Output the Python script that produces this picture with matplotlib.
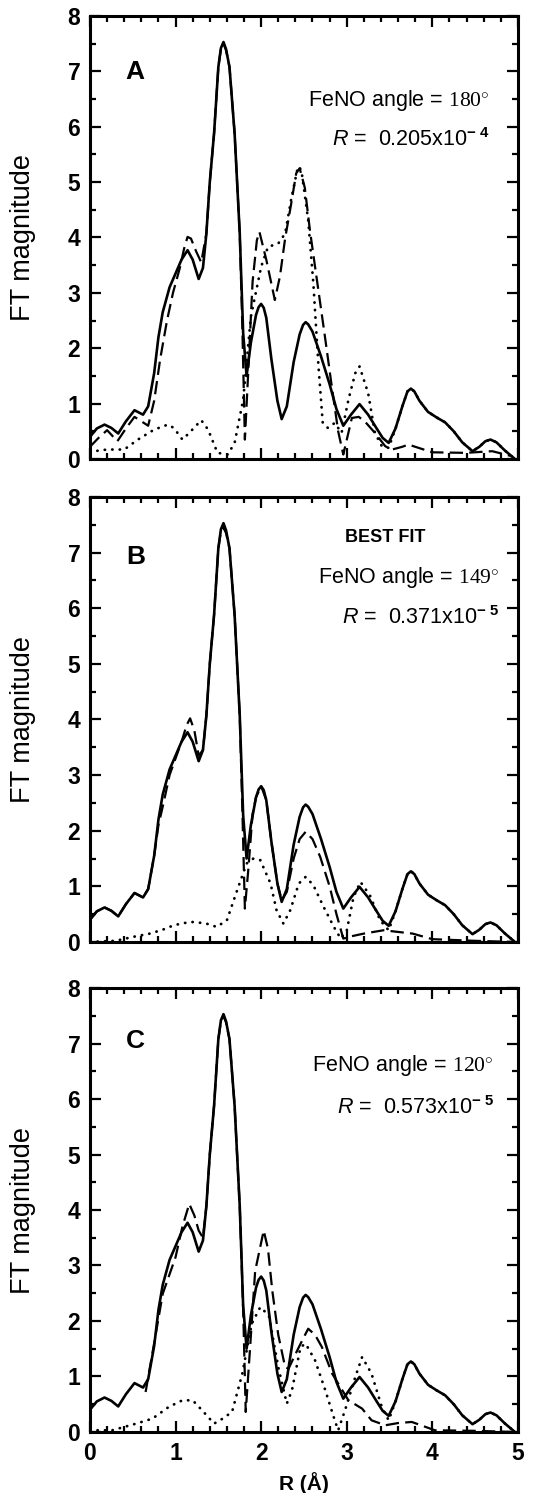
#!/usr/bin/env python3
import numpy as np
import matplotlib
matplotlib.use("Agg")
import matplotlib.pyplot as plt
from matplotlib.ticker import MultipleLocator

plt.rcParams["font.family"] = ["Liberation Sans", "DejaVu Sans"]
plt.rcParams["mathtext.fontset"] = "custom"
plt.rcParams["mathtext.rm"] = "Liberation Serif"
plt.rcParams["mathtext.it"] = "Liberation Sans:italic"
plt.rcParams["mathtext.bf"] = "Liberation Sans:bold"
plt.rcParams["mathtext.sf"] = "Liberation Sans"

# experimental FT (same trace in every panel)
R_EXP = [0.00, 0.08, 0.17, 0.25, 0.33, 0.42, 0.52, 0.62, 0.68, 0.75, 0.80, 0.85, 0.93,
         1.00, 1.07, 1.14, 1.20, 1.27, 1.32, 1.36, 1.40, 1.45, 1.50, 1.53, 1.56, 1.59,
         1.63, 1.69, 1.75, 1.79, 1.83, 1.88, 1.94, 1.97, 2.00, 2.03, 2.06, 2.12, 2.19,
         2.24, 2.30, 2.38, 2.45, 2.49, 2.52, 2.55, 2.60, 2.70, 2.80, 2.88, 2.96, 3.05,
         3.15, 3.25, 3.35, 3.42, 3.49, 3.57, 3.65, 3.71, 3.75, 3.79, 3.85, 3.95, 4.05,
         4.15, 4.25, 4.35, 4.47, 4.55, 4.62, 4.68, 4.75, 4.85, 4.95]
FT_EXP = [0.40, 0.55, 0.62, 0.56, 0.46, 0.68, 0.88, 0.80, 0.95, 1.55, 2.20, 2.65, 3.10,
          3.35, 3.60, 3.77, 3.60, 3.25, 3.45, 4.07, 5.00, 5.88, 7.08, 7.42, 7.53, 7.40,
          7.08, 5.88, 4.07, 2.27, 1.50, 2.10, 2.60, 2.74, 2.80, 2.73, 2.55, 1.80, 1.05,
          0.72, 0.95, 1.75, 2.25, 2.42, 2.47, 2.43, 2.30, 1.85, 1.35, 0.90, 0.60, 0.80,
          0.99, 0.80, 0.55, 0.38, 0.29, 0.55, 0.95, 1.22, 1.27, 1.22, 1.05, 0.85, 0.75,
          0.66, 0.50, 0.30, 0.14, 0.22, 0.32, 0.35, 0.30, 0.15, 0.02]

# A: FeNO 180 deg
R_A_FIT = [0.00, 0.10, 0.20, 0.32, 0.42, 0.52, 0.60, 0.68, 0.75, 0.82, 0.90, 0.97, 1.05,
           1.10, 1.14, 1.18, 1.24, 1.30, 1.36, 1.40, 1.45, 1.50, 1.53, 1.56, 1.59, 1.63,
           1.69, 1.75, 1.78, 1.81, 1.85, 1.90, 1.95, 1.98, 2.06, 2.16, 2.22, 2.28, 2.35,
           2.41, 2.45, 2.51, 2.57, 2.63, 2.74, 2.82, 2.90, 2.96, 3.06, 3.14, 3.21, 3.33,
           3.45, 3.53, 3.65, 3.72, 3.84, 4.00, 4.39, 4.70, 4.93]
FT_A_FIT = [0.22, 0.38, 0.52, 0.32, 0.55, 0.76, 0.68, 0.60, 1.05, 1.80, 2.50, 3.00, 3.45,
            3.80, 4.01, 3.98, 3.75, 3.55, 4.07, 5.00, 5.88, 7.08, 7.40, 7.50, 7.38, 7.08,
            5.88, 4.07, 2.40, 0.35, 1.60, 3.20, 3.95, 4.10, 3.60, 2.87, 3.30, 3.98, 4.60,
            5.16, 5.25, 4.90, 4.13, 3.47, 2.27, 1.37, 0.50, 0.08, 0.74, 0.76, 0.68, 0.47,
            0.23, 0.17, 0.22, 0.26, 0.20, 0.12, 0.11, 0.14, 0.05]
R_A_SS = [0.00, 0.05, 0.20, 0.40, 0.56, 0.75, 0.91, 0.98, 1.08, 1.16, 1.30, 1.38, 1.49,
          1.61, 1.69, 1.79, 1.88, 2.00, 2.08, 2.20, 2.28, 2.35, 2.43, 2.47, 2.55, 2.61,
          2.67, 2.72, 2.78, 2.86, 2.94, 3.02, 3.10, 3.15, 3.25, 3.33, 3.41, 3.49]
FT_A_SS = [0.12, 0.14, 0.17, 0.17, 0.35, 0.53, 0.62, 0.56, 0.35, 0.47, 0.70, 0.53, 0.11,
           0.08, 0.29, 1.07, 2.57, 3.47, 3.83, 3.89, 4.07, 4.68, 5.28, 5.22, 4.31, 3.17,
           1.67, 0.65, 0.56, 0.65, 0.47, 1.07, 1.55, 1.67, 1.19, 0.47, 0.23, 0.20]

# B: FeNO 149 deg (best fit)
R_B_FIT = [0.00, 0.08, 0.17, 0.25, 0.33, 0.42, 0.52, 0.62, 0.68, 0.75, 0.80, 0.86, 0.93,
           1.00, 1.07, 1.13, 1.17, 1.22, 1.27, 1.32, 1.36, 1.40, 1.45, 1.50, 1.53, 1.56,
           1.59, 1.63, 1.69, 1.75, 1.78, 1.81, 1.85, 1.90, 1.94, 2.00, 2.06, 2.12, 2.19,
           2.24, 2.30, 2.38, 2.45, 2.52, 2.60, 2.69, 2.80, 2.88, 2.96, 3.05, 3.20, 3.43,
           3.60, 3.77, 4.00, 4.50, 4.95]
FT_B_FIT = [0.40, 0.55, 0.62, 0.56, 0.46, 0.68, 0.88, 0.80, 0.95, 1.55, 2.10, 2.50, 3.00,
            3.30, 3.60, 3.90, 4.02, 3.80, 3.35, 3.45, 4.07, 5.00, 5.88, 7.08, 7.38, 7.45,
            7.35, 7.08, 5.88, 4.07, 2.40, 0.60, 1.30, 2.30, 2.60, 2.80, 2.55, 1.80, 1.05,
            0.75, 0.90, 1.50, 1.85, 1.98, 1.85, 1.53, 1.00, 0.50, 0.06, 0.10, 0.15, 0.21,
            0.18, 0.15, 0.05, 0.02, 0.00]
R_B_SS = [0.00, 0.30, 0.50, 0.70, 0.85, 0.98, 1.10, 1.21, 1.36, 1.48, 1.60, 1.72, 1.83,
          1.91, 1.99, 2.11, 2.18, 2.26, 2.34, 2.44, 2.52, 2.61, 2.73, 2.85, 2.93, 3.00,
          3.08, 3.16, 3.27, 3.39, 3.49]
FT_B_SS = [0.00, 0.02, 0.09, 0.15, 0.22, 0.30, 0.34, 0.36, 0.33, 0.27, 0.39, 0.93, 1.41,
           1.50, 1.47, 1.05, 0.57, 0.33, 0.57, 1.05, 1.17, 1.02, 0.63, 0.27, 0.06, 0.20,
           0.81, 1.08, 0.84, 0.39, 0.21]

# C: FeNO 120 deg
R_C_FIT = [0.65, 0.75, 0.85, 1.00, 1.08, 1.16, 1.22, 1.27, 1.32, 1.36, 1.40, 1.45, 1.50,
           1.53, 1.56, 1.59, 1.63, 1.69, 1.75, 1.79, 1.82, 1.87, 1.93, 2.03, 2.08, 2.13,
           2.20, 2.28, 2.32, 2.40, 2.48, 2.55, 2.63, 2.71, 2.83, 3.02, 3.18, 3.29, 3.45,
           3.60, 3.76, 4.03, 4.50, 4.95]
FT_C_FIT = [0.72, 1.60, 2.49, 3.15, 3.70, 4.11, 3.90, 3.63, 3.50, 4.07, 5.00, 5.88, 7.08,
            7.40, 7.50, 7.38, 7.08, 5.88, 4.07, 2.20, 0.36, 1.50, 2.90, 3.63, 3.30, 2.55,
            1.75, 1.17, 1.14, 1.40, 1.65, 1.86, 1.75, 1.53, 1.05, 0.57, 0.42, 0.21, 0.12,
            0.16, 0.18, 0.03, 0.02, 0.00]
R_C_SS = [0.00, 0.26, 0.54, 0.73, 0.92, 1.08, 1.20, 1.31, 1.45, 1.55, 1.66, 1.78, 1.89,
          1.99, 2.09, 2.20, 2.30, 2.36, 2.46, 2.52, 2.63, 2.75, 2.86, 2.90, 2.98, 3.10,
          3.18, 3.29, 3.41, 3.49]
FT_C_SS = [0.03, 0.03, 0.15, 0.24, 0.45, 0.57, 0.57, 0.39, 0.15, 0.24, 0.36, 1.05, 1.95,
           2.25, 2.10, 1.17, 0.51, 0.75, 1.53, 1.59, 1.29, 0.75, 0.21, 0.03, 0.39, 0.99,
           1.35, 1.05, 0.45, 0.21]

PANELS = ["A", "B", "C"]
ANGLES = ["180", "149", "120"]
R_FACTORS = [(r"0.205x10", "4"), (r"0.371x10", "5"), (r"0.573x10", "5")]
FITS = [(R_A_FIT, FT_A_FIT), (R_B_FIT, FT_B_FIT), (R_C_FIT, FT_C_FIT)]
SINGLES = [(R_A_SS, FT_A_SS), (R_B_SS, FT_B_SS), (R_C_SS, FT_C_SS)]


def with_outer_shells(r, y):
    # beyond 3.5 A the single-scattering trace sits on top of the data
    r_exp = np.asarray(R_EXP)
    y_exp = np.asarray(FT_EXP)
    keep = r_exp > max(r)
    return np.concatenate([r, r_exp[keep]]), np.concatenate([y, y_exp[keep]])


def style_axes(ax, show_x):
    ax.set_xlim(0, 5)
    ax.set_ylim(0, 8)
    ax.xaxis.set_major_locator(MultipleLocator(1))
    ax.xaxis.set_minor_locator(MultipleLocator(0.2))
    ax.yaxis.set_major_locator(MultipleLocator(1))
    ax.yaxis.set_minor_locator(MultipleLocator(0.5))
    ax.tick_params(which="both", direction="in", top=True, right=True, width=1.6)
    ax.tick_params(which="major", length=8)
    ax.tick_params(which="minor", length=4.5)
    ax.tick_params(axis="y", pad=7, labelsize=16.5)
    ax.tick_params(axis="x", pad=7, labelsize=16.5, labelbottom=show_x)
    for lab in ax.get_xticklabels() + ax.get_yticklabels():
        lab.set_fontweight("bold")
    for sp in ax.spines.values():
        sp.set_linewidth(2.2)
    ax.set_ylabel("FT magnitude", fontsize=19.5)
    ax.yaxis.set_label_coords(-0.125, 0.5)


def main():
    fig = plt.figure(figsize=(5.5, 14.93), dpi=100)
    boxes = [(0.6926, 0.2967), (0.3691, 0.2980), (0.0409, 0.2973)]
    label_pos = [(0.53, 6.98), (0.53, 6.92), (0.53, 7.05)]
    angle_pos = [(4.67, 6.48), (4.79, 6.55), (4.72, 6.61)]
    rf_pos = [(4.67, 5.76), (4.79, 5.83), (4.72, 5.84)]

    for i, (bottom, height) in enumerate(boxes):
        ax = fig.add_axes([0.1636, bottom, 0.778, height])
        r_fit, y_fit = FITS[i]
        r_ss, y_ss = with_outer_shells(*SINGLES[i])

        ax.plot(R_EXP, FT_EXP, color="black", linewidth=1.9, solid_joinstyle="round")
        ax.plot(r_fit, y_fit, color="black", linewidth=1.6,
                linestyle=(0, (6, 2.8)))
        ax.plot(r_ss, y_ss, color="black", linewidth=2.0,
                linestyle=(0, (0.1, 2.6)), dash_capstyle="round")

        style_axes(ax, show_x=(i == 2))

        ax.text(*label_pos[i], PANELS[i], fontsize=19, fontweight="bold",
                ha="center", va="center")
        ax.text(*angle_pos[i], "FeNO angle = $\\mathrm{%s^{\\circ}}$" % ANGLES[i],
                fontsize=15.5, ha="right", va="center")
        mant, expo = R_FACTORS[i]
        ax.text(*rf_pos[i], "$R$ =  %s$^{\\mathbf{-\\ %s}}$" % (mant, expo),
                fontsize=15.5, ha="right", va="center")
        if i == 1:
            ax.text(3.45, 7.28, "BEST FIT", fontsize=13, fontweight="bold",
                    ha="center", va="center")
        if i == 2:
            ax.set_xlabel("R (Å)", fontsize=15, fontweight="bold", labelpad=5)

    fig.savefig("out.png", dpi=100)
    plt.close(fig)


if __name__ == "__main__":
    main()
